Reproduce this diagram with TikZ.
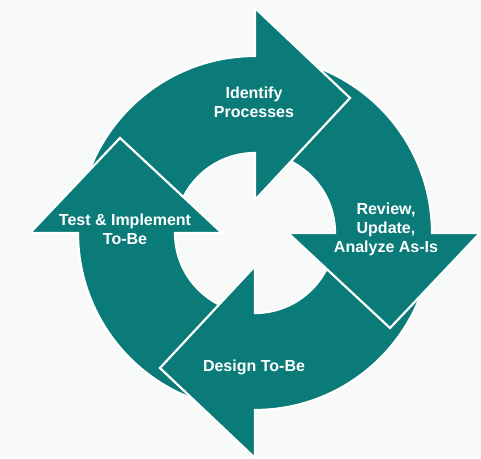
\documentclass[tikz,border=0pt]{standalone}
\usepackage{fontspec}
\setmainfont{Liberation Sans}
\definecolor{tealA}{RGB}{10,123,120}
\definecolor{bgA}{RGB}{248,250,249}
\def\Rin{80pt}
\def\Rout{177pt}
\newcommand\cyclearrowpath[1]{%
  ({#1+85}:\Rin) -- ({#1+85}:\Rout)
  arc[start angle={#1+85}, end angle={#1}, radius=\Rout]
  -- ({#1}:225pt) -- ({#1-35.14}:165.1pt) -- ({#1}:33pt) -- ({#1}:\Rin)
  arc[start angle={#1}, end angle={#1+85}, radius=\Rin] -- cycle}
\tikzset{
  cyclearrow/.style={fill=tealA, draw=white, line width=2.2pt, line join=miter},
  lbl/.style={text=white, font=\bfseries\fontsize{16}{19}\selectfont, align=center, inner sep=0pt}
}
\begin{document}
\begin{tikzpicture}[x=1pt,y=1pt]
  \fill[bgA] (0,0) rectangle (481,458);
  \useasboundingbox (0,0) rectangle (481,458);
  \begin{scope}[shift={(255,225)}]
    \path[cyclearrow] \cyclearrowpath{180};
    \path[cyclearrow] \cyclearrowpath{-90};
    \path[cyclearrow] \cyclearrowpath{0};
    \path[cyclearrow] \cyclearrowpath{90};
    \begin{scope}
      \clip (-240pt,0pt) rectangle (0pt,200pt);
      \path[cyclearrow] \cyclearrowpath{180};
    \end{scope}
  \end{scope}
  \node[lbl] (identify) at (254,356) {Identify\\Processes};
  \node[lbl] (review) at (386,229) {Review,\\Update,\\Analyze As-Is};
  \node[lbl] (design) at (254,91) {Design To-Be};
  \node[lbl] (test) at (125,228.5) {Test \& Implement\\To-Be};
\end{tikzpicture}
\end{document}
